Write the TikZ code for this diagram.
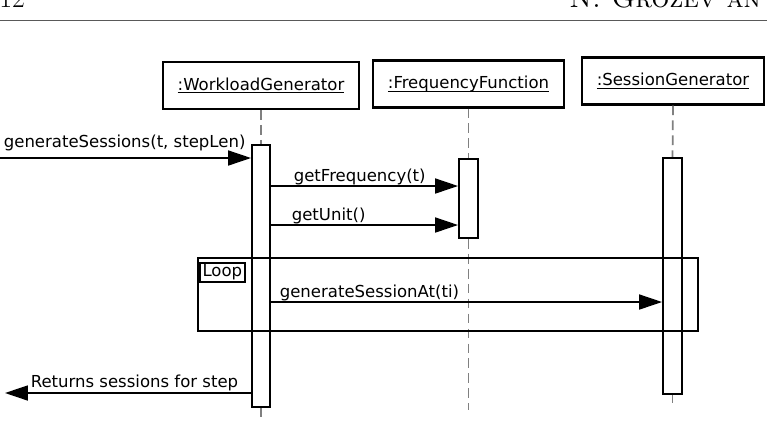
\documentclass[tikz,border=0pt]{standalone}
\usepackage{fontspec}
\newfontfamily\diafont{DejaVu Sans}
\usetikzlibrary{arrows.meta,calc,fit,positioning}
\newcommand{\objname}[1]{\underline{\smash{#1}}}
\tikzset{
  obj/.style={draw,line width=1.2pt,minimum height=0.94cm,inner sep=0pt,text height=0.22cm,text depth=0.03cm,font=\diafont\fontsize{9.4}{11}\selectfont},
  act/.style={draw,fill=white,line width=1.1pt,inner sep=0pt},
  life/.style={gray,line width=1pt,dash pattern=on 5.5pt off 3pt},
  msg/.style={line width=1pt,-{Triangle[length=13pt,width=8.5pt]}},
  lbl/.style={inner sep=0pt,font=\diafont\fontsize{9.4}{11}\selectfont},
  loopframe/.style={draw,line width=1.1pt,inner sep=0pt},
  looptag/.style={draw,line width=0.9pt,inner sep=0pt,minimum width=0.9cm,minimum height=0.38cm,font=\diafont\fontsize{9.4}{11}\selectfont},
}
\begin{document}
\begin{tikzpicture}[x=0.02cm,y=-0.02cm]
\useasboundingbox (0,0) rectangle (767,424);
\clip (0,0) rectangle (767,424);

\draw [black!65,line width=0.8pt] (0,20.5) -- (767,20.5);
\draw (-1,7) node [anchor=base west,inner sep=0pt,font=\fontsize{15.9}{18}\selectfont] (pageno) {12};
\draw (569,7) node [anchor=base west,inner sep=0pt,font=\fontsize{15.9}{18}\selectfont] (runhead) {\textsc{N. Grozev an}};

\node [obj,minimum width=3.92cm] (wg) at (261,85.5) {\objname{:WorkloadGenerator}};
\node [obj,minimum width=3.82cm] (ff) at (468.5,84) {\objname{:FrequencyFunction}};
\node [obj,minimum width=3.64cm] (sg) at (673,81) {\objname{:SessionGenerator}};

\node [act,fit={(252,145) (270,407)}] (wgAct) {};
\node [act,fit={(459,159) (478,238)}] (ffAct) {};
\node [act,fit={(663,158) (682,394)}] (sgAct) {};

\coordinate (wgEnd) at (261,417);
\coordinate (ffEnd) at (468.5,410);
\coordinate (sgEnd) at (672.5,403);
\draw [life] (wg.south) -- (wgAct.north);
\draw [life] (wgAct.south) -- (wgEnd);
\draw [life] (ff.south) -- (ffAct.north);
\draw [life] (ffAct.south) -- (ffEnd);
\draw [life] (sg.south) -- (sgAct.north);
\draw [life] (sgAct.south) -- (sgEnd);
\node [act,fit={(252,145) (270,407)}] {};
\node [act,fit={(459,159) (478,238)}] {};
\node [act,fit={(663,158) (682,394)}] {};

\coordinate (callIn) at (0,158);
\coordinate (rowF) at (0,186);
\coordinate (rowU) at (0,225);
\coordinate (rowS) at (0,302);
\coordinate (retOut) at (5,393);

\draw [msg] (callIn) -- (wgAct.west |- callIn) node [lbl,pos=0,anchor=base west,xshift=0.06cm,yshift=0.22cm] (callLbl) {generateSessions(t, stepLen)};
\draw [msg] (wgAct.east |- rowF) -- (ffAct.west |- rowF) node [lbl,pos=0,anchor=base west,xshift=0.44cm,yshift=0.1cm] (getFLbl) {getFrequency(t)};
\draw [msg] (wgAct.east |- rowU) -- (ffAct.west |- rowU) node [lbl,pos=0,anchor=base west,xshift=0.4cm,yshift=0.094cm] (getULbl) {getUnit()};
\draw [msg] (wgAct.east |- rowS) -- (sgAct.west |- rowS) node [lbl,pos=0,anchor=base west,xshift=0.16cm,yshift=0.094cm] (genAtLbl) {generateSessionAt(ti)};
\draw [msg] (wgAct.west |- retOut) -- (retOut) node [lbl,pos=0,anchor=base east,xshift=-0.24cm,yshift=0.11cm] (retLbl) {Returns sessions for step};

\node [loopframe,fit={(198,258) (698,331)}] (loop) {};
\node [looptag,anchor=north west] (loopTag) at ($(loop.north west)+(2,5)$) {Loop};
\end{tikzpicture}
\end{document}
